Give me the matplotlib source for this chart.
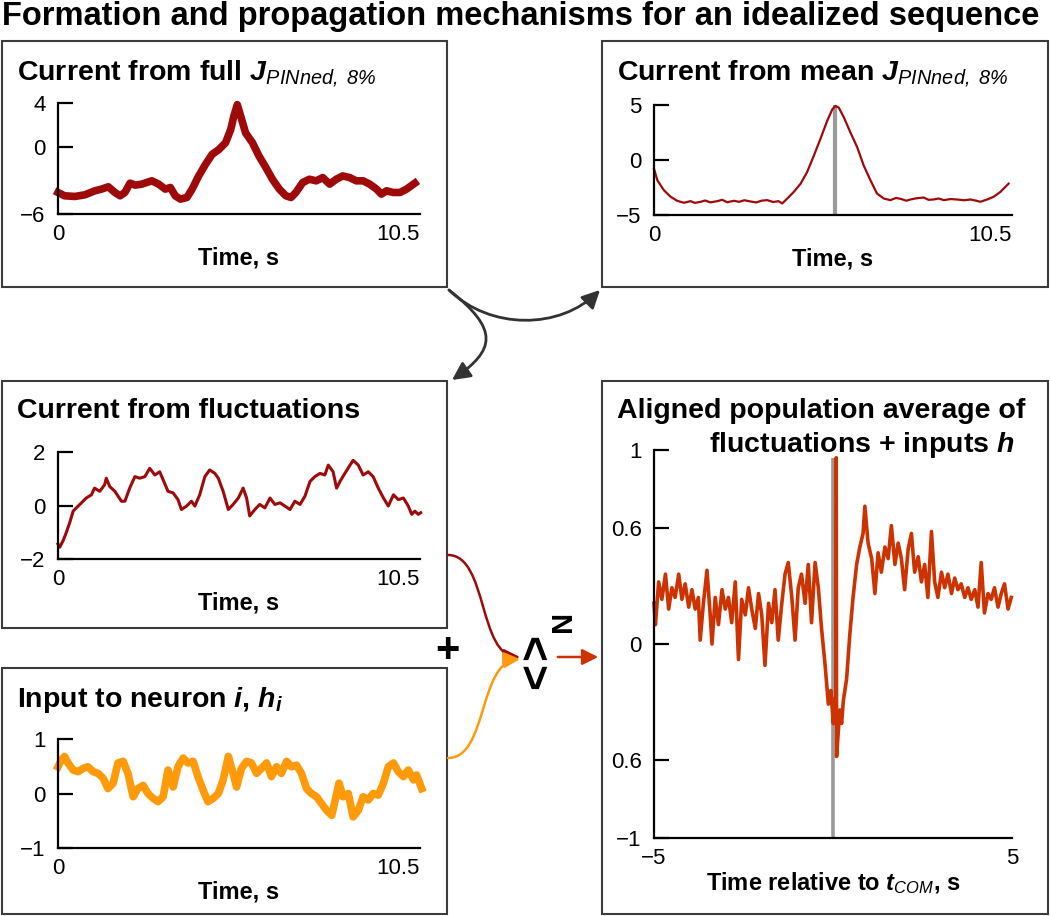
import numpy as np
import matplotlib
matplotlib.use("Agg")
import matplotlib.pyplot as plt
from matplotlib.patches import Rectangle, FancyArrowPatch
from matplotlib.path import Path

plt.rcParams["font.family"] = ["Liberation Sans", "DejaVu Sans"]
plt.rcParams["mathtext.fontset"] = "custom"
plt.rcParams["mathtext.rm"] = "Liberation Sans:italic"
plt.rcParams["mathtext.it"] = "Liberation Sans:italic"
plt.rcParams["mathtext.bf"] = "Liberation Sans:italic:bold"

# ---------- data ----------
# current from full J (s, a.u.)
t_full = [0.00, 0.19, 0.49, 0.78, 1.07, 1.26, 1.46, 1.65, 1.80, 1.94, 2.09, 2.24, 2.43, 2.72, 2.92,
          3.11, 3.26, 3.40, 3.55, 3.74, 3.89, 4.08, 4.28, 4.47, 4.67, 4.86, 5.01, 5.10, 5.20, 5.30,
          5.44, 5.64, 5.83, 6.03, 6.22, 6.42, 6.61, 6.76, 6.90, 7.10, 7.29, 7.49, 7.68, 7.88, 8.07,
          8.26, 8.46, 8.65, 8.85, 9.04, 9.24, 9.38, 9.53, 9.72, 9.92, 10.11, 10.35]
v_full = [-4.06, -4.36, -4.42, -4.27, -3.91, -3.76, -3.55, -4.06, -4.36, -4.06, -3.22, -3.40, -3.31,
          -3.01, -3.31, -3.76, -3.61, -4.36, -4.66, -4.51, -3.76, -2.57, -1.52, -0.63, -0.18, 0.42,
          1.61, 2.81, 3.85, 2.81, 1.31, 0.42, -0.78, -1.82, -2.87, -3.76, -4.36, -4.51, -4.06, -3.16,
          -2.87, -3.01, -2.72, -3.31, -2.87, -2.57, -2.72, -3.01, -3.01, -3.31, -3.76, -4.21, -3.91,
          -4.06, -4.06, -3.76, -3.22]

# current from mean J
t_mean = [0, 0.10, 0.29, 0.49, 0.68, 0.88, 1.07, 1.2, 1.37, 1.5, 1.65, 1.86, 2.0, 2.15, 2.34, 2.5,
          2.65, 2.83, 3.0, 3.15, 3.32, 3.5, 3.65, 3.76, 3.91, 4.10, 4.30, 4.49, 4.69, 4.88, 5.08,
          5.23, 5.32, 5.42, 5.57, 5.76, 5.96, 6.15, 6.35, 6.54, 6.74, 6.93, 7.1, 7.23, 7.4, 7.52,
          7.7, 7.91, 8.05, 8.20, 8.35, 8.50, 8.7, 8.89, 9.1, 9.28, 9.45, 9.57, 9.77, 9.96, 10.16, 10.40]
v_mean = [-0.80, -1.85, -2.75, -3.35, -3.71, -3.89, -3.74, -3.90, -3.80, -3.68, -3.85, -3.74, -3.62,
          -3.84, -3.71, -3.80, -3.66, -3.77, -3.86, -3.70, -3.65, -3.82, -3.74, -3.95, -3.50, -2.90,
          -2.15, -1.10, 0.41, 1.91, 3.56, 4.61, 4.91, 4.76, 3.86, 2.51, 1.16, -0.50, -1.85, -3.05,
          -3.50, -3.65, -3.45, -3.53, -3.70, -3.59, -3.48, -3.41, -3.62, -3.59, -3.50, -3.65, -3.55,
          -3.59, -3.66, -3.59, -3.70, -3.80, -3.59, -3.35, -2.90, -2.15]
t_peak = 5.30

# current from fluctuations
t_fluc = [0, 0.05, 0.15, 0.24, 0.34, 0.44, 0.53, 0.68, 0.82, 0.97, 1.06, 1.21, 1.35, 1.40, 1.50,
          1.65, 1.84, 1.94, 2.08, 2.23, 2.37, 2.52, 2.66, 2.81, 2.95, 3.05, 3.19, 3.34, 3.48, 3.58,
          3.73, 3.87, 3.97, 4.11, 4.26, 4.40, 4.55, 4.65, 4.79, 4.94, 5.08, 5.23, 5.37, 5.47, 5.56,
          5.71, 5.85, 6.00, 6.15, 6.29, 6.44, 6.58, 6.73, 6.87, 7.02, 7.16, 7.31, 7.45, 7.60, 7.74,
          7.84, 7.98, 8.08, 8.18, 8.32, 8.47, 8.56, 8.71, 8.85, 9.00, 9.14, 9.29, 9.44, 9.58, 9.73,
          9.87, 10.02, 10.16, 10.26, 10.35, 10.45, 10.52]
v_fluc = [-1.44, -1.56, -1.31, -1.01, -0.64, -0.21, -0.09, 0.10, 0.28, 0.40, 0.65, 0.53, 0.77, 1.02,
          0.71, 0.53, 0.16, 0.16, 0.65, 1.08, 1.02, 1.08, 1.39, 1.14, 1.26, 0.96, 0.53, 0.47, 0.22,
          -0.15, -0.02, 0.16, -0.02, 0.40, 1.08, 1.33, 1.20, 1.02, 0.53, -0.15, 0.04, 0.28, 0.65,
          0.28, -0.39, -0.15, 0.04, -0.09, 0.28, 0.04, 0.10, -0.02, -0.15, 0.16, 0.04, 0.34, 0.90,
          1.08, 1.20, 1.14, 1.51, 1.26, 0.65, 0.90, 1.20, 1.51, 1.69, 1.51, 1.14, 1.26, 1.08, 0.65,
          0.28, -0.02, 0.40, 0.22, 0.28, -0.02, -0.33, -0.21, -0.33, -0.27]

# input to neuron i
t_inp = [0, 0.10, 0.19, 0.29, 0.44, 0.58, 0.73, 0.87, 1.02, 1.16, 1.31, 1.45, 1.60, 1.74, 1.89,
         2.03, 2.18, 2.32, 2.47, 2.61, 2.76, 2.90, 3.05, 3.19, 3.34, 3.48, 3.63, 3.77, 3.92, 4.06,
         4.21, 4.35, 4.50, 4.65, 4.79, 4.94, 5.08, 5.18, 5.32, 5.47, 5.61, 5.76, 5.90, 6.05, 6.19,
         6.34, 6.48, 6.63, 6.77, 6.92, 7.06, 7.21, 7.35, 7.50, 7.65, 7.79, 7.94, 8.03, 8.15, 8.27,
         8.42, 8.56, 8.71, 8.85, 9.00, 9.14, 9.29, 9.44, 9.58, 9.73, 9.87, 10.02, 10.16, 10.31,
         10.40, 10.55]
v_inp = [0.49, 0.62, 0.68, 0.56, 0.43, 0.40, 0.46, 0.49, 0.40, 0.37, 0.28, 0.09, 0.19, 0.56, 0.59,
         0.37, -0.06, 0.09, 0.15, 0.00, -0.09, -0.15, -0.06, 0.43, 0.12, 0.49, 0.65, 0.56, 0.59,
         0.31, 0.06, -0.15, -0.09, 0.00, 0.25, 0.68, 0.37, 0.12, 0.46, 0.59, 0.56, 0.37, 0.46, 0.56,
         0.31, 0.49, 0.37, 0.59, 0.49, 0.52, 0.37, 0.09, 0.00, -0.06, -0.19, -0.31, -0.40, -0.15,
         0.19, -0.06, 0.00, -0.43, -0.31, -0.06, -0.12, 0.00, -0.03, 0.19, 0.49, 0.56, 0.40, 0.31,
         0.43, 0.25, 0.34, 0.09]

# aligned population average (time relative to t_COM)
t_avg = [-5.00, -4.96, -4.87, -4.78, -4.68, -4.59, -4.50, -4.41, -4.31, -4.22, -4.13, -4.03, -3.94,
         -3.85, -3.76, -3.71, -3.62, -3.52, -3.43, -3.38, -3.29, -3.20, -3.10, -3.01, -2.92, -2.83,
         -2.73, -2.64, -2.55, -2.45, -2.36, -2.27, -2.17, -2.08, -1.99, -1.90, -1.80, -1.71, -1.62,
         -1.53, -1.43, -1.34, -1.25, -1.15, -1.06, -0.97, -0.88, -0.78, -0.69, -0.60, -0.50, -0.41,
         -0.32, -0.22, -0.13, -0.06, 0.01, 0.05, 0.08, 0.09, 0.10, 0.19, 0.24, 0.29, 0.38, 0.47,
         0.56, 0.66, 0.75, 0.84, 0.89, 0.98, 1.08, 1.17, 1.26, 1.35, 1.45, 1.54, 1.63, 1.73, 1.82,
         1.91, 2.00, 2.10, 2.19, 2.28, 2.38, 2.47, 2.56, 2.65, 2.75, 2.84, 2.93, 3.03, 3.12, 3.21,
         3.31, 3.40, 3.49, 3.58, 3.68, 3.77, 3.86, 3.96, 4.05, 4.14, 4.23, 4.33, 4.42, 4.51, 4.61,
         4.70, 4.79, 4.89, 4.98]
v_avg = [0.21, 0.10, 0.32, 0.23, 0.36, 0.18, 0.29, 0.24, 0.36, 0.23, 0.31, 0.19, 0.28, 0.18, 0.24,
         0.02, 0.21, 0.38, 0.15, 0.00, 0.24, 0.10, 0.28, 0.18, 0.24, 0.11, 0.32, -0.08, 0.23, 0.15,
         0.29, 0.18, 0.08, 0.26, 0.15, -0.11, 0.21, 0.11, 0.28, 0.02, 0.21, 0.36, 0.42, 0.24, 0.02,
         0.29, 0.36, 0.21, 0.41, 0.11, 0.42, 0.29, 0.08, -0.11, -0.31, -0.24, -0.41, -0.28, -0.35,
         0.96, -0.58, -0.34, -0.41, -0.29, -0.18, 0.05, 0.24, 0.41, 0.50, 0.57, 0.71, 0.52, 0.44,
         0.26, 0.47, 0.37, 0.50, 0.44, 0.61, 0.41, 0.52, 0.44, 0.28, 0.49, 0.57, 0.37, 0.45, 0.32,
         0.41, 0.24, 0.58, 0.32, 0.24, 0.37, 0.29, 0.36, 0.26, 0.34, 0.28, 0.31, 0.24, 0.29, 0.23,
         0.28, 0.19, 0.42, 0.16, 0.26, 0.23, 0.29, 0.19, 0.26, 0.31, 0.18, 0.24]

DARK_RED = "#9e0a0a"
ORANGE = "#ff9a0a"
RED_ORANGE = "#cc3300"
GRAY = "#9a9a9a"
BOX = "#3c3c3c"

W, H = 1050, 916
fig = plt.figure(figsize=(W / 100, H / 100), dpi=100, facecolor="white")


def fp(x, y):
    return (x / W, 1 - y / H)


def add_ax(x0, y0, x1, y1):
    return fig.add_axes([x0 / W, 1 - y1 / H, (x1 - x0) / W, (y1 - y0) / H])


def style(ax, xlim, ylim, yticks, ylabels, xticks, xlabels, xlabel, xha=None):
    ax.set_xlim(*xlim); ax.set_ylim(*ylim)
    for s in ("top", "right"):
        ax.spines[s].set_visible(False)
    for s in ("left", "bottom"):
        ax.spines[s].set_linewidth(1.6)
    ax.set_yticks(yticks, ylabels)
    ax.set_xticks(xticks, xlabels)
    ax.tick_params(axis="y", direction="in", length=11, width=1.6, pad=9, labelsize=16)
    ax.tick_params(axis="x", length=0, pad=7, labelsize=16)
    if xha:
        ax.get_xticklabels()[-1].set_ha(xha)
    ax.set_xlabel(xlabel, fontsize=17, fontweight="bold", labelpad=1)
    ax.patch.set_alpha(0)


def box(x0, y0, x1, y1):
    fig.add_artist(Rectangle(fp(x0, y1), (x1 - x0) / W, (y1 - y0) / H, transform=fig.transFigure,
                             facecolor="none", edgecolor=BOX, lw=1.5))


def curve(pts, color, lw, scale):
    verts = [fp(x, y) for x, y in pts]
    codes = [Path.MOVETO] + [Path.CURVE4] * (len(pts) - 1)
    fig.add_artist(FancyArrowPatch(path=Path(verts, codes), arrowstyle="-|>,head_length=0.6,head_width=0.3",
                                   mutation_scale=scale, color=color, lw=lw, transform=fig.transFigure))


fig.text(0.002, fp(0, 25)[1], "Formation and propagation mechanisms for an idealized sequence",
         fontsize=23.5, fontweight="bold", va="baseline")

# boxes
box(2, 41, 447, 287)
box(602, 41, 1048, 287)
box(2, 381, 447, 628)
box(2, 668, 447, 914)
box(602, 381, 1048, 914)

# ---- panel 1 ----
fig.text(*fp(17, 80), r"Current from full $\mathbf{J}_{\mathit{PINned,\ 8\%}}$", fontsize=20.5,
         fontweight="bold", va="baseline")
ax1 = add_ax(58, 103, 420, 214)
ax1.plot(t_full, v_full, color=DARK_RED, lw=5.5, clip_on=False, solid_joinstyle="round")
style(ax1, (0, 10.5), (-6, 4), [4, 0, -6], ["4", "0", "\u22126"], [0, 10.5], ["0", "10.5"], "Time, s", "right")

# ---- panel 2 ----
fig.text(*fp(617, 80), r"Current from mean $\mathbf{J}_{\mathit{PINned,\ 8\%}}$", fontsize=20.5,
         fontweight="bold", va="baseline")
ax2 = add_ax(654, 105, 1012, 215)
ax2.plot([t_peak, t_peak], [-5, 5], color=GRAY, lw=3, solid_capstyle="butt")
ax2.plot(t_mean, v_mean, color=DARK_RED, lw=1.6, clip_on=False)
style(ax2, (0, 10.5), (-5, 5), [5, 0, -5], ["5", "0", "\u22125"], [0, 10.5], ["0", "10.5"], "Time, s", "right")

# ---- panel 3 ----
fig.text(*fp(17, 418), "Current from fluctuations", fontsize=20.5, fontweight="bold", va="baseline")
ax3 = add_ax(58, 452, 420, 559)
ax3.plot(t_fluc, v_fluc, color=DARK_RED, lw=2.2, clip_on=False)
style(ax3, (0, 10.5), (-2, 2), [2, 0, -2], ["2", "0", "\u22122"], [0, 10.5], ["0", "10.5"], "Time, s", "right")

# ---- panel 4 ----
fig.text(*fp(17, 707), r"Input to neuron $\mathbf{i}$, $\mathbf{h}_{\mathbf{i}}$", fontsize=20.5,
         fontweight="bold", va="baseline")
ax4 = add_ax(58, 739, 420, 848)
ax4.plot(t_inp, v_inp, color=ORANGE, lw=5.5, clip_on=False)
style(ax4, (0, 10.5), (-1, 1), [1, 0, -1], ["1", "0", "\u22121"], [0, 10.5], ["0", "10.5"], "Time, s", "right")

# ---- panel 5 ----
fig.text(*fp(617, 418), "Aligned population average of", fontsize=20.5, fontweight="bold", va="baseline")
fig.text(*fp(1015, 452), r"fluctuations + inputs $\mathbf{h}$", fontsize=20.5, fontweight="bold",
         va="baseline", ha="right")
ax5 = add_ax(654, 450, 1012, 838)
ax5.plot([0, 0], [-1, 0.96], color=GRAY, lw=2.6, solid_capstyle="butt")
ax5.plot(t_avg, v_avg, color=RED_ORANGE, lw=2.6, clip_on=False)
style(ax5, (-5, 5), (-1, 1), [1, 0.6, 0, -0.6, -1], ["1", "0.6", "0", "0.6", "\u22121"], [-5, 5],
      ["\u22125", "5"], r"Time relative to $\mathbf{t}_{\mathit{COM}}$, s")

# ---- arrows ----
curve([(449, 290), (490, 330), (560, 330), (600, 290)], "#333333", 2, 18)
curve([(449, 290), (500, 330), (495, 350), (452, 380)], "#333333", 2, 18)
curve([(448, 555), (488, 555), (478, 657), (520, 657)], DARK_RED, 1.8, 16)
curve([(448, 758), (488, 758), (478, 662), (520, 659)], ORANGE, 1.8, 16)
fig.add_artist(FancyArrowPatch(fp(555, 657), fp(601, 657), arrowstyle="-|>,head_length=0.6,head_width=0.3",
                               mutation_scale=16, color=RED_ORANGE, lw=1.8, transform=fig.transFigure))
fig.text(*fp(447, 651), "+", fontsize=30, fontweight="bold", ha="center", va="center")
fig.text(*fp(538, 647), ">", fontsize=32, fontweight="bold", ha="center", va="center", rotation=90)
fig.text(*fp(538, 676), "<", fontsize=32, fontweight="bold", ha="center", va="center", rotation=90)
fig.text(*fp(563, 621), "N", fontsize=21, fontweight="bold", ha="center", va="center", rotation=90)

fig.savefig("out.png", dpi=100, facecolor="white")
